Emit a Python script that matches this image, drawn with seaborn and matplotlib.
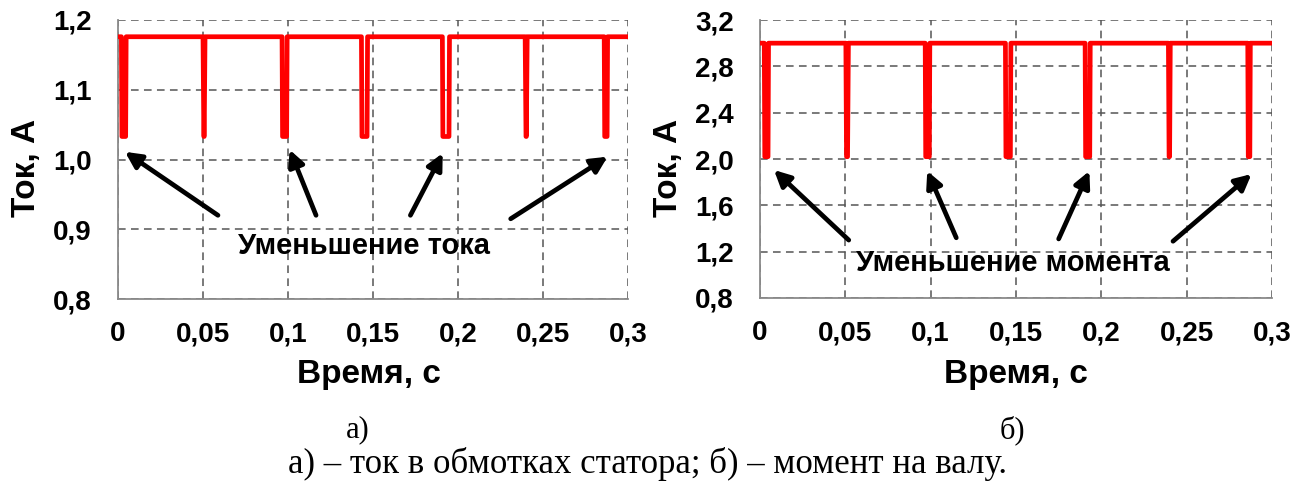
import matplotlib
matplotlib.use("Agg")
import matplotlib.pyplot as plt
import seaborn as sns
import pandas as pd

# ---- data ----
time_a = [0, 0.0020, 0.0023, 0.0045, 0.0048, 0.0500, 0.0505, 0.0507, 0.0512,
          0.0965, 0.0968, 0.0992, 0.0995, 0.1432, 0.1435, 0.1465, 0.1468,
          0.1908, 0.1911, 0.1947, 0.1950, 0.2395, 0.2400, 0.2402, 0.2407,
          0.2860, 0.2863, 0.2877, 0.2880, 0.3]
current_a = [1.176, 1.176, 1.033, 1.033, 1.176, 1.176, 1.033, 1.033, 1.176,
             1.176, 1.033, 1.033, 1.176, 1.176, 1.033, 1.033, 1.176,
             1.176, 1.033, 1.033, 1.176, 1.176, 1.033, 1.033, 1.176,
             1.176, 1.033, 1.033, 1.176, 1.176]

time_b = [0, 0.0025, 0.0028, 0.0047, 0.0050, 0.0503, 0.0507, 0.0513, 0.0518,
          0.0968, 0.0971, 0.0992, 0.0995, 0.1438, 0.1441, 0.1467, 0.1470,
          0.1905, 0.1908, 0.1932, 0.1935, 0.2393, 0.2397, 0.2400, 0.2404,
          0.2858, 0.2861, 0.2870, 0.2873, 0.3]
torque_b = [3.0, 3.0, 2.02, 2.02, 3.0, 3.0, 2.02, 2.02, 3.0,
            3.0, 2.02, 2.02, 3.0, 3.0, 2.02, 2.02, 3.0,
            3.0, 2.02, 2.02, 3.0, 3.0, 2.02, 2.02, 3.0,
            3.0, 2.02, 2.02, 3.0, 3.0]

x_ticks = [0, 0.05, 0.1, 0.15, 0.2, 0.25, 0.3]
x_tick_labels = ["0", "0,05", "0,1", "0,15", "0,2", "0,25", "0,3"]
y_ticks_a = [0.8, 0.9, 1.0, 1.1, 1.2]
y_tick_labels_a = ["0,8", "0,9", "1,0", "1,1", "1,2"]
y_ticks_b = [0.8, 1.2, 1.6, 2.0, 2.4, 2.8, 3.2]
y_tick_labels_b = ["0,8", "1,2", "1,6", "2,0", "2,4", "2,8", "3,2"]

# arrows: (tail_x, tail_y, head_x, head_y)
arrows_a = [(0.0588, 0.920, 0.0041, 1.011), (0.1165, 0.920, 0.1010, 1.014),
            (0.1720, 0.920, 0.1910, 1.009), (0.2310, 0.915, 0.2880, 1.004)]
arrows_b = [(0.0520, 1.30, 0.0082, 1.905), (0.1150, 1.32, 0.0980, 1.896),
            (0.1750, 1.31, 0.1930, 1.896), (0.2420, 1.29, 0.2880, 1.870)]
note_a = "Уменьшение тока"
note_b = "Уменьшение момента"

sns.set_style("white")
plt.rcParams["font.family"] = ["Liberation Sans", "DejaVu Sans"]
plt.rcParams["text.color"] = "black"
plt.rcParams["xtick.color"] = "black"
plt.rcParams["ytick.color"] = "black"

W, H = 1306, 482
fig = plt.figure(figsize=(W / 100, H / 100), dpi=100)
ax1 = fig.add_axes([118 / W, (H - 299) / H, 510 / W, 279 / H])
ax2 = fig.add_axes([760 / W, (H - 298) / H, 512 / W, 278 / H])

df_a = pd.DataFrame({"t": time_a, "v": current_a})
df_b = pd.DataFrame({"t": time_b, "v": torque_b})

for ax, df, yt, ytl, arrows, note, note_xy in [
    (ax1, df_a, y_ticks_a, y_tick_labels_a, arrows_a, note_a, (0.145, 0.876)),
    (ax2, df_b, y_ticks_b, y_tick_labels_b, arrows_b, note_b, (0.148, 1.10)),
]:
    sns.lineplot(data=df, x="t", y="v", ax=ax, color="#ff0000", lw=3.4,
                 sort=False, estimator=None, zorder=3)
    ax.set_xlim(0, 0.3)
    ax.set_ylim(yt[0], yt[-1])
    ax.set_xticks(x_ticks)
    ax.set_xticklabels(x_tick_labels)
    ax.set_yticks(yt)
    ax.set_yticklabels(ytl)
    ax.tick_params(axis="both", length=0, labelsize=20, labelcolor="black")
    ax.tick_params(axis="x", pad=16)
    ax.tick_params(axis="y", pad=19)
    for lab in ax.get_xticklabels() + ax.get_yticklabels():
        lab.set_fontweight("bold")
    ax.grid(True, color="#555555", linestyle=(0, (5, 3.5)), lw=1.1)
    for s in ["top", "right"]:
        ax.spines[s].set_visible(False)
    for s in ["left", "bottom"]:
        ax.spines[s].set_color("#8a8a8a")
        ax.spines[s].set_linewidth(1.3)
    ax.set_xlabel("")
    ax.set_ylabel("")
    for tx, ty, hx, hy in arrows:
        ax.annotate("", xy=(hx, hy), xytext=(tx, ty),
                    arrowprops=dict(arrowstyle="-|>", color="black", lw=3.4,
                                    mutation_scale=24, shrinkA=0, shrinkB=0),
                    zorder=4)
    ax.text(note_xy[0], note_xy[1], note, ha="center", va="center",
            fontsize=21, fontweight="bold", color="black", zorder=5)

fig.text(26 / W, 1 - 168 / H, "Ток, А", rotation=90, ha="center", va="center",
         fontsize=24, fontweight="bold")
fig.text(669 / W, 1 - 168 / H, "Ток, А", rotation=90, ha="center", va="center",
         fontsize=24, fontweight="bold")
fig.text(369 / W, 1 - 374 / H, "Время, с", ha="center", va="center",
         fontsize=24, fontweight="bold")
fig.text(1016 / W, 1 - 374 / H, "Время, с", ha="center", va="center",
         fontsize=24, fontweight="bold")

serif = ["Liberation Serif", "DejaVu Serif"]
fig.text(358 / W, 1 - 430 / H, "а)", ha="center", va="center", fontsize=22,
         family=serif)
fig.text(1012 / W, 1 - 430 / H, "б)", ha="center", va="center", fontsize=22,
         family=serif)
fig.text(648 / W, 1 - 464 / H, "а) – ток в обмотках статора; б) – момент на валу.",
         ha="center", va="center", fontsize=25, family=serif)

fig.savefig("out.png", dpi=100)
